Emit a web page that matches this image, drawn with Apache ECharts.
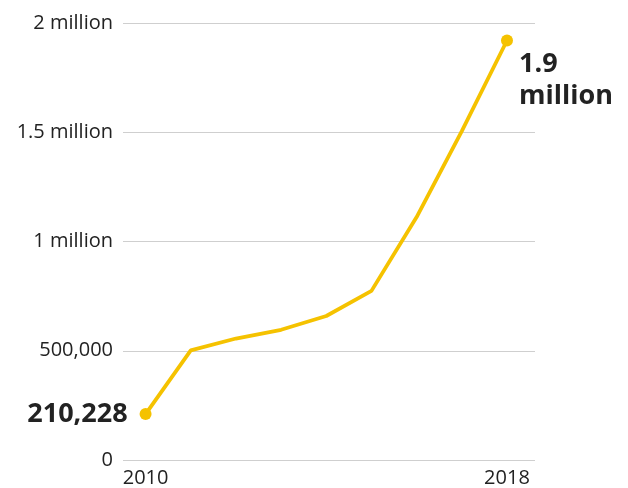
<!DOCTYPE html>
<html>
<head>
<meta charset="utf-8">
<script src="https://cdn.jsdelivr.net/npm/echarts@6/dist/echarts.min.js"></script>
<style>html,body{margin:0;padding:0;background:#fff}#c{width:628px;height:488px}</style>
</head>
<body>
<div id="c"></div>
<script>
const years = [2010, 2011, 2012, 2013, 2014, 2015, 2016, 2017, 2018];
const values = [210228, 502000, 556000, 596000, 659000, 774000, 1112000, 1505000, 1920000];
const yTicks = [0, 500000, 1000000, 1500000, 2000000];
const yTickLabels = ['0', '500,000', '1 million', '1.5 million', '2 million'];
const xTickLabels = [2010, 2018];
const endLabels = ['210,228', '1.9\nmillion'];

const FONT = '"Open Sans", "Noto Sans", sans-serif';
const YELLOW = '#F5C200';

const data = years.map((y, i) => {
  const item = { value: [y, values[i]] };
  if (i === 0) {
    item.symbolSize = 12;
    item.label = { show: true, position: 'left', distance: 12, formatter: endLabels[0] };
  } else if (i === years.length - 1) {
    item.symbolSize = 12;
    item.label = { show: true, position: 'right', distance: 6, align: 'left', verticalAlign: 'top', offset: [0, 8], lineHeight: 32, formatter: endLabels[1] };
  } else {
    item.symbolSize = 0;
  }
  return item;
});

const chart = echarts.init(document.getElementById('c'), null, { renderer: 'canvas' });
chart.setOption({
  animation: false,
  backgroundColor: '#fff',
  grid: { left: 123, right: 93, top: 23, bottom: 28, containLabel: false },
  xAxis: {
    type: 'value',
    min: 2009.5,
    max: 2018.62,
    axisLine: { show: false },
    axisTick: { show: false },
    splitLine: { show: false },
    axisLabel: {
      customValues: xTickLabels,
      formatter: v => String(v),
      color: '#222',
      fontFamily: FONT,
      fontSize: 20,
      margin: 8
    }
  },
  yAxis: {
    type: 'value',
    min: 0,
    max: 2000000,
    interval: 500000,
    axisLine: { show: false },
    axisTick: { show: false },
    splitLine: { lineStyle: { color: '#cfcfcf', width: 1 } },
    axisLabel: {
      color: '#222',
      fontFamily: FONT,
      fontSize: 20,
      margin: 10,
      formatter: v => yTickLabels[yTicks.indexOf(v)]
    }
  },
  series: [{
    type: 'line',
    data: data,
    symbol: 'circle',
    showAllSymbol: true,
    itemStyle: { color: YELLOW },
    lineStyle: { color: YELLOW, width: 3.8 },
    label: {
      color: '#222',
      fontFamily: FONT,
      fontWeight: 'bold',
      fontSize: 27
    }
  }]
});
</script>
</body>
</html>
